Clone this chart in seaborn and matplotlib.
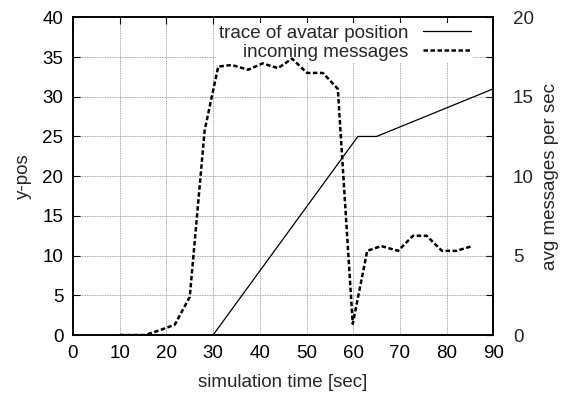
import matplotlib
matplotlib.use("Agg")
import pandas as pd
import seaborn as sns
from matplotlib import pyplot as plt

# avatar position trace (left axis)
pos_t = [30, 61, 65, 90]
pos_y = [0, 25, 25, 31]

# incoming messages per sec (right axis)
msg_t = [10, 12.4, 15.4, 18.6, 21.8, 25.0, 28.2, 31.1, 34.0, 37.5, 40.6, 43.9, 46.9,
         50.1, 53.5, 56.7, 59.9, 63.0, 66.0, 69.6, 72.8, 75.7, 79.0, 82.1, 85.5]
msg_v = [0, 0, 0, 0.3, 0.65, 2.4, 12.9, 16.9, 17.0, 16.7, 17.1, 16.8, 17.4,
         16.5, 16.5, 15.5, 0.7, 5.3, 5.6, 5.3, 6.25, 6.25, 5.3, 5.3, 5.6]

pos_df = pd.DataFrame({"t": pos_t, "y": pos_y})
msg_df = pd.DataFrame({"t": msg_t, "v": msg_v})

sns.set_style("white")
plt.rcParams["font.family"] = ["Liberation Sans", "DejaVu Sans"]
fs = 13.5

fig = plt.figure(figsize=(5.64, 3.94), dpi=100)
ax = fig.add_axes([0.1294, 0.1497, 0.7453, 0.8063])
ax2 = ax.twinx()

sns.lineplot(data=pos_df, x="t", y="y", ax=ax, color="black", lw=0.9,
             label="trace of avatar position", legend=False)
sns.lineplot(data=msg_df, x="t", y="v", ax=ax2, color="black", lw=1.8,
             linestyle=(0, (1.8, 1.0)), label="incoming messages", legend=False)

ax.set_xlim(0, 90)
ax.set_ylim(0, 40)
ax2.set_ylim(0, 20)
ax.set_xticks(range(0, 91, 10))
ax.set_yticks(range(0, 41, 5))
ax2.set_yticks(range(0, 21, 5))

ax.grid(True, color="#888888", linestyle=(0, (1, 1)), lw=0.6)
ax.set_axisbelow(True)

ax.tick_params(axis="y", direction="in", length=5, width=0.8, right=True,
               labelsize=fs, pad=7, colors="black")
ax.tick_params(axis="x", direction="in", length=5, width=0.8, top=True,
               labelsize=fs, pad=7, colors="black")
ax2.tick_params(direction="in", length=5, width=0.8, labelsize=fs, pad=14)
for a in (ax, ax2):
    for s in a.spines.values():
        s.set_color("black")
        s.set_linewidth(1.2)

ax.set_xlabel("simulation time [sec]", fontsize=fs)
ax.set_ylabel("y-pos", fontsize=fs)
ax2.set_ylabel("avg messages per sec", fontsize=fs)
ax.xaxis.set_label_coords(0.5, -0.148)
ax.yaxis.set_label_coords(-0.118, 0.5)
ax2.yaxis.set_label_coords(1.135, 0.5)
ax.xaxis.label.set_va("center")
ax.yaxis.label.set_va("center")
ax2.yaxis.label.set_va("center")

# legend on the lower axes so the message line is drawn over its box
h1, l1 = ax.get_legend_handles_labels()
h2, l2 = ax2.get_legend_handles_labels()
leg = ax.legend(h1 + h2, l1 + l2, loc="upper right", bbox_to_anchor=(0.952, 0.982),
                markerfirst=False, frameon=True, facecolor="white", edgecolor="none",
                framealpha=1, fancybox=False, handlelength=2.6, handletextpad=0.75,
                labelspacing=0.08, borderpad=0.1, borderaxespad=0, fontsize=fs)

fig.savefig("out.png", dpi=100)
